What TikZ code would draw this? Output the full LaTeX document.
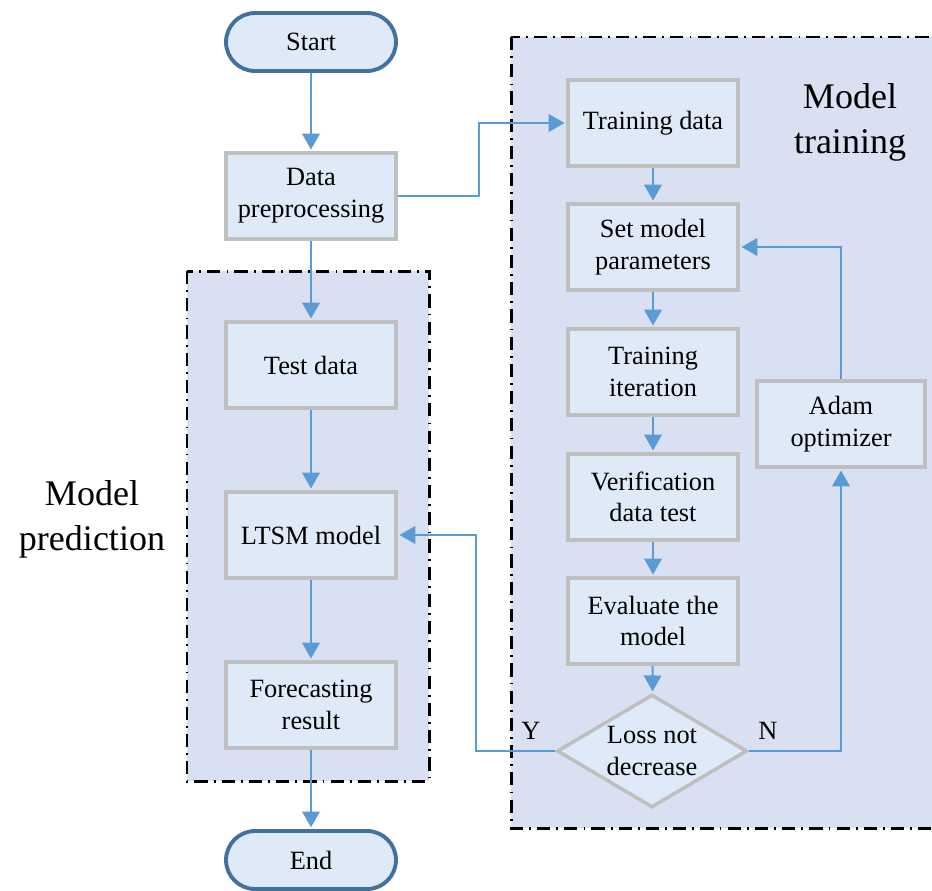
\documentclass[tikz,border=0pt]{standalone}
\usepackage{fontspec}
\setmainfont{Liberation Serif}
\usepackage{xcolor}
\usetikzlibrary{calc,shapes.geometric,arrows.meta}
\definecolor{boxfill}{RGB}{222,234,247}
\definecolor{boxline}{RGB}{191,191,191}
\definecolor{zonefill}{RGB}{217,224,242}
\definecolor{flow}{RGB}{91,155,213}
\definecolor{pillline}{RGB}{65,113,156}

\begin{document}
\begin{tikzpicture}[x=0.02cm,y=-0.02cm,
	box/.style={draw=boxline,line width=2pt,fill=boxfill,minimum width=3.4cm,minimum height=1.72cm,
		inner sep=2pt,align=center,font=\fontsize{15}{18}\selectfont},
	pill/.style={draw=pillline,line width=2.2pt,fill=boxfill,rounded corners=0.58cm,minimum width=3.4cm,
		minimum height=1.16cm,font=\fontsize{15}{18}\selectfont},
	test/.style={diamond,draw=boxline,line width=2pt,fill=boxfill,shape aspect=1.68,inner sep=0pt,
		minimum width=3.8cm,minimum height=2.26cm,align=center,font=\fontsize{15}{18}\selectfont},
	zone/.style={fill=zonefill,line width=1.7pt,dash pattern=on 7.5pt off 3.5pt on 1pt off 3.5pt},
	arr/.style={draw=flow,line width=1.1pt,-{Triangle[length=9pt,width=10pt]},shorten >=1pt},
	lbl/.style={align=center,font=\fontsize{20.5}{25.5}\selectfont}]
	\clip (0,0) rectangle (932,890);
	\draw[zone] (511,37) rectangle (950,828);
	\draw[zone] (187,271) rectangle (429,781);
	\node[pill] (start) at (311,42)  {Start};
	\node[box]  (pre)   at (311,196) {Data\\preprocessing};
	\node[box]  (tst)   at (311,365) {Test data};
	\node[box]  (ltsm)  at (311,535) {LTSM model};
	\node[box]  (fore)  at (311,705) {Forecasting\\result};
	\node[pill] (end)   at (311,860) {End};
	\node[box]  (train) at (653,123) {Training data};
	\node[box]  (set)   at (653,247) {Set model\\parameters};
	\node[box]  (iter)  at (653,372) {Training\\iteration};
	\node[box]  (ver)   at (653,497) {Verification\\data test};
	\node[box]  (eval)  at (653,621) {Evaluate the\\model};
	\node[test] (loss)  at (652,751) {Loss not\\decrease};
	\node[box,minimum width=3.36cm] (adam) at (841,424) {Adam\\optimizer};
	\node[lbl] (mtr) at (850,122) {Model\\training};
	\node[lbl] (mpr) at (92,519)  {Model\\prediction};
	\node[font=\fontsize{15}{18}\selectfont] (yes) at (531,731) {Y};
	\node[font=\fontsize{15}{18}\selectfont] (no)  at (768,731) {N};
	\draw[arr] (start) -- (pre);
	\draw[arr] (pre) -- (tst);
	\draw[arr] (tst) -- (ltsm);
	\draw[arr] (ltsm) -- (fore);
	\draw[arr] (fore) -- (end);
	\draw[arr] (train) -- (set);
	\draw[arr] (set) -- (iter);
	\draw[arr] (iter) -- (ver);
	\draw[arr] (ver) -- (eval);
	\draw[arr] (eval) -- (loss);
	\draw[arr] (pre.east) -- ++(81,0) |- (train.west);
	\draw[arr] (loss.west) -- ++(-79,0) |- (ltsm.east);
	\draw[arr] (loss.east) -| (adam.south);
	\draw[arr] (adam.north) |- (set.east);
\end{tikzpicture}
\end{document}
